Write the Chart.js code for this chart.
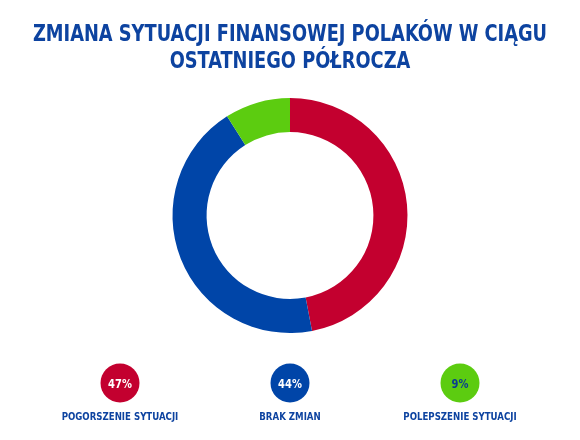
<!DOCTYPE html>
<html>
<head>
<meta charset="utf-8">
<script src="https://cdn.jsdelivr.net/npm/chart.js@4"></script>
<style>
  body { margin: 0; background: #fff; }
  canvas { display: block; }
</style>
</head>
<body>
<canvas id="chart" width="580" height="440"></canvas>
<script>
var titleLines = ["ZMIANA SYTUACJI FINANSOWEJ POLAKÓW W CIĄGU", "OSTATNIEGO PÓŁROCZA"]
var labels = ["POGORSZENIE SYTUACJI", "BRAK ZMIAN", "POLEPSZENIE SYTUACJI"]
var values = [47, 44, 9]
var colors = ["#c3002f", "#0045a8", "#5ccc10"]
var pctColors = ["#ffffff", "#ffffff", "#0a3d8f"]

var fontFamily = "'DejaVu Sans Condensed', sans-serif"
var navy = "#0d43a0"

// condensed text: squeeze horizontally around x, y is the baseline
function narrowText(ctx, text, x, y, size, squeeze, color) {
  ctx.save()
  ctx.translate(x, y)
  ctx.scale(squeeze, 1)
  ctx.font = "bold " + size + "px " + fontFamily
  ctx.fillStyle = color
  ctx.textAlign = "center"
  ctx.textBaseline = "alphabetic"
  ctx.fillText(text, 0, 0)
  ctx.restore()
}

var titleAndLegend = {
  id: "titleAndLegend",
  afterDraw: function(chart) {
    var ctx = chart.ctx
    var cx = chart.width / 2
    titleLines.forEach(function(line, i) {
      narrowText(ctx, line, cx, 40.7 + i * 27, 23, 0.86, navy)
    })
    var xs = [120, 290, 460]
    for (let i = 0; i < values.length; i++) {
      ctx.beginPath()
      ctx.arc(xs[i], 383, 19.5, 0, Math.PI * 2)
      ctx.fillStyle = colors[i]
      ctx.fill()
      narrowText(ctx, values[i] + "%", xs[i], 388, 12, 0.92, pctColors[i])
      narrowText(ctx, labels[i], xs[i], 420, 11, 0.87, navy)
    }
  }
}

new Chart(document.getElementById("chart"), {
  type: "doughnut",
  data: {
    labels: labels,
    datasets: [{
      data: values,
      backgroundColor: colors,
      borderWidth: 0
    }]
  },
  options: {
    responsive: false,
    animation: false,
    cutout: "71%",
    layout: { padding: { top: 98, bottom: 107 } },
    plugins: {
      legend: { display: false },
      tooltip: { enabled: false },
      title: { display: false }
    }
  },
  plugins: [titleAndLegend]
})
</script>
</body>
</html>
